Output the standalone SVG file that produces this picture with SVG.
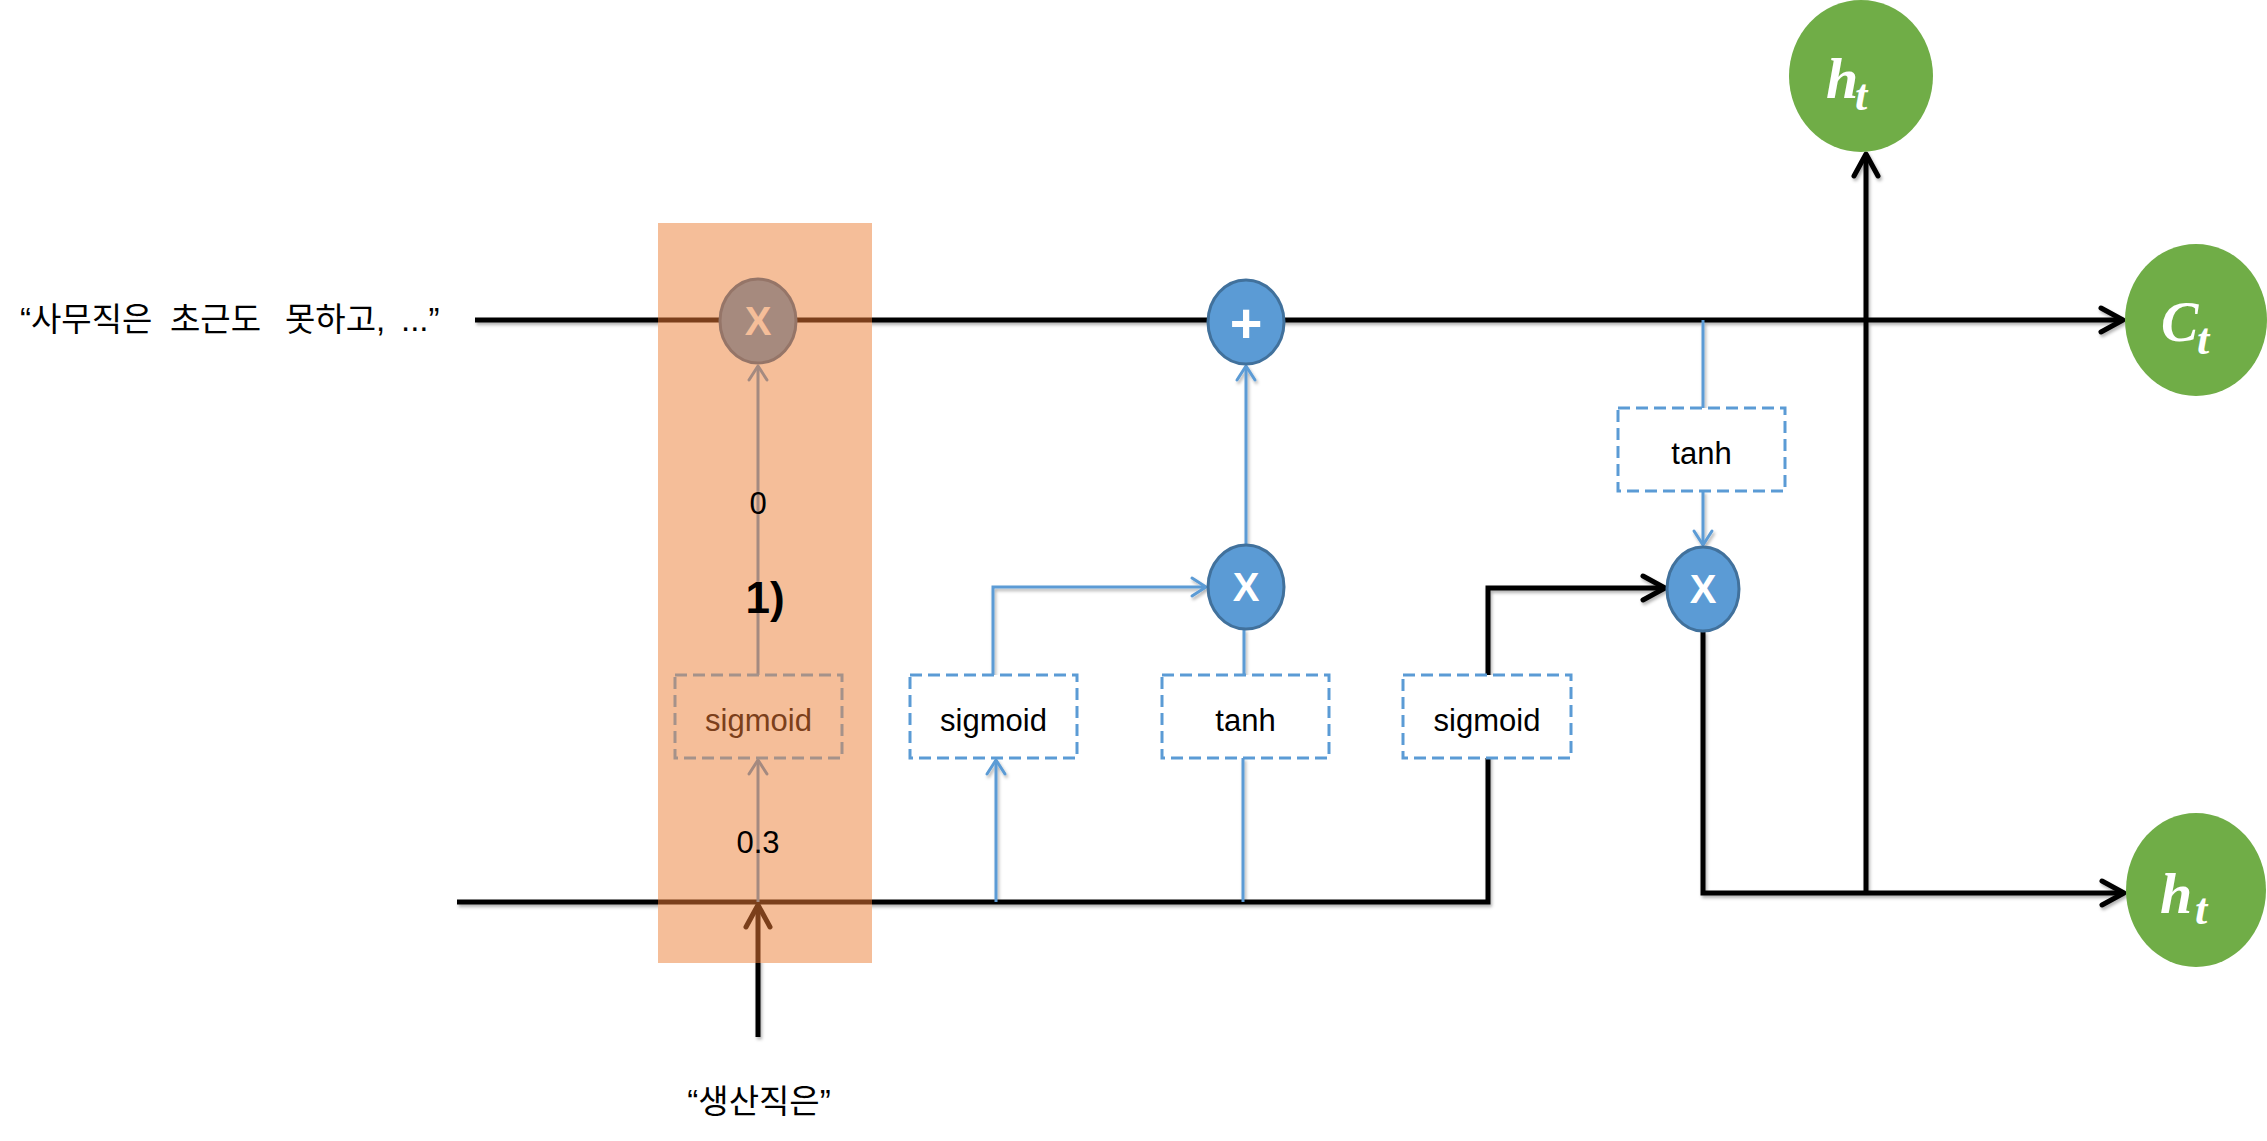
<svg xmlns="http://www.w3.org/2000/svg" width="2267" height="1141" viewBox="0 0 2267 1141">
<style>
.blk{fill:none;stroke:#000;stroke-width:5;stroke-linejoin:miter}
.blu{fill:none;stroke:#5B9BD5;stroke-width:3}
.gry{fill:none;stroke:#A48A80;stroke-width:3}
.brn{fill:none;stroke:#7B3F1B;stroke-width:5}
.op{fill:#5B9BD5;stroke:#41719C;stroke-width:3}
.box{fill:#fff;stroke:#5B9BD5;stroke-width:3;stroke-dasharray:12 6}
.lbl{font-family:"Liberation Sans",Arial,sans-serif;font-size:31px;fill:#000;text-anchor:middle}
.sym{font-family:"Liberation Sans",Arial,sans-serif;font-weight:bold;fill:#fff;text-anchor:middle}
.grn{fill:#70AD47}
.math{font-family:"Liberation Serif","Times New Roman",serif;font-weight:bold;font-style:italic;fill:#fff}
.kr{font-family:"Liberation Sans","Noto Sans CJK KR",sans-serif;font-size:33px;fill:#000}
</style>
<defs>
<filter id="sh" x="-5%" y="-5%" width="110%" height="110%">
<feDropShadow dx="1.5" dy="2.5" stdDeviation="1.5" flood-color="#000" flood-opacity="0.3"/>
</filter>
<marker id="ab" markerUnits="userSpaceOnUse" markerWidth="40" markerHeight="40" refX="0" refY="0" orient="auto" overflow="visible">
<path d="M-22,-12 L0,0 L-22,12" fill="none" stroke="#000" stroke-width="5" stroke-linecap="round" stroke-linejoin="round"/>
</marker>
<marker id="abr" markerUnits="userSpaceOnUse" markerWidth="40" markerHeight="40" refX="0" refY="0" orient="auto" overflow="visible">
<path d="M-22,-12 L0,0 L-22,12" fill="none" stroke="#7B3F1B" stroke-width="5" stroke-linecap="round" stroke-linejoin="round"/>
</marker>
<marker id="au" markerUnits="userSpaceOnUse" markerWidth="30" markerHeight="30" refX="0" refY="0" orient="auto" overflow="visible">
<path d="M-14,-9 L0,0 L-14,9" fill="none" stroke="#5B9BD5" stroke-width="3" stroke-linecap="round" stroke-linejoin="round"/>
</marker>
<marker id="ag" markerUnits="userSpaceOnUse" markerWidth="30" markerHeight="30" refX="0" refY="0" orient="auto" overflow="visible">
<path d="M-14,-9 L0,0 L-14,9" fill="none" stroke="#A48A80" stroke-width="3" stroke-linecap="round" stroke-linejoin="round"/>
</marker>
</defs>
<rect width="2267" height="1141" fill="#fff"/>

<g id="connectors" filter="url(#sh)">
<path class="blk" d="M475,320 H2123" marker-end="url(#ab)"/>
<path class="blk" d="M457,902 H1488 V588 H1665" marker-end="url(#ab)"/>
<path class="blk" d="M1703,631 V893 H2124" marker-end="url(#ab)"/>
<path class="blk" d="M1866,893 V154" marker-end="url(#ab)"/>
<path class="blk" d="M758,1037 V905" marker-end="url(#ab)"/>
<path class="blu" d="M1703,320 V408"/>
<path class="blu" d="M1703,491 V545" marker-end="url(#au)"/>
<path class="blu" d="M993,675 V587 H1206" marker-end="url(#au)"/>
<path class="blu" d="M1244,675 V629"/>
<path class="blu" d="M1246,545 V366" marker-end="url(#au)"/>
<path class="blu" d="M996,902 V760" marker-end="url(#au)"/>
<path class="blu" d="M1243,902 V758"/>
</g>

<g id="node-plus">
<ellipse class="op" cx="1246" cy="322" rx="38" ry="42"/>
<text class="sym" x="1246" y="342" font-size="56">+</text>
</g>
<g id="node-mul1">
<ellipse class="op" cx="1246" cy="587" rx="38" ry="42"/>
<text class="sym" x="1246" y="601" font-size="40">X</text>
</g>
<g id="node-mul2">
<ellipse class="op" cx="1703" cy="589" rx="36" ry="42"/>
<text class="sym" x="1703" y="603" font-size="40">X</text>
</g>
<g id="node-sigmoid2">
<rect class="box" x="910" y="675" width="167" height="83"/>
<text class="lbl" x="993.5" y="731">sigmoid</text>
</g>
<g id="node-tanh1">
<rect class="box" x="1162" y="675" width="167" height="83"/>
<text class="lbl" x="1245.5" y="731">tanh</text>
</g>
<g id="node-sigmoid3">
<rect class="box" x="1403" y="675" width="168" height="83"/>
<text class="lbl" x="1487" y="731">sigmoid</text>
</g>
<g id="node-tanh2">
<rect class="box" x="1618" y="408" width="167" height="83"/>
<text class="lbl" x="1701.5" y="464">tanh</text>
</g>
<g id="node-ht-top">
<ellipse class="grn" cx="1861" cy="76" rx="72" ry="76"/>
<text class="math" x="1826" y="98" font-size="58">h</text>
<text class="math" x="1855" y="110" font-size="44">t</text>
</g>
<g id="node-ct">
<ellipse class="grn" cx="2196" cy="320" rx="71" ry="76"/>
<text class="math" x="2161" y="341" font-size="56">C</text>
<text class="math" x="2197" y="354" font-size="44">t</text>
</g>
<g id="node-ht-right">
<ellipse class="grn" cx="2196" cy="890" rx="70" ry="77"/>
<text class="math" x="2160" y="913" font-size="58">h</text>
<text class="math" x="2195" y="924" font-size="44">t</text>
</g>

<g id="highlight">
<rect x="658" y="223" width="214" height="740" fill="#F5BE99"/>
<path class="brn" d="M658,320 H872"/>
<path class="brn" d="M658,902 H872"/>
<path class="brn" d="M758,963 V905" marker-end="url(#abr)"/>
<path class="gry" d="M758,902 V760" marker-end="url(#ag)"/>
<path class="gry" d="M758,675 V366" marker-end="url(#ag)"/>
</g>
<g id="node-forget-mul">
<ellipse cx="758" cy="321" rx="38" ry="42" fill="#A68A7E" stroke="#957568" stroke-width="3"/>
<text class="sym" x="758" y="335" font-size="40" style="fill:#F5BE99">X</text>
</g>
<g id="node-sigmoid1">
<rect x="675" y="675" width="167" height="83" fill="none" stroke="#A5928A" stroke-width="3" stroke-dasharray="12 6"/>
<text class="lbl" x="758.5" y="731" style="fill:#7B3F1B">sigmoid</text>
</g>
<g id="labels">
<text class="lbl" x="758" y="514">0</text>
<text class="lbl" x="765" y="613" style="font-size:44px;font-weight:bold">1)</text>
<text class="lbl" x="758" y="853">0.3</text>
<text class="kr" y="331"><tspan x="20">“사무직은</tspan><tspan x="170">초근도</tspan><tspan x="285">못하고,</tspan><tspan x="401">...”</tspan></text>
<text class="kr" x="759" y="1113" text-anchor="middle">“생산직은”</text>
</g>
</svg>
